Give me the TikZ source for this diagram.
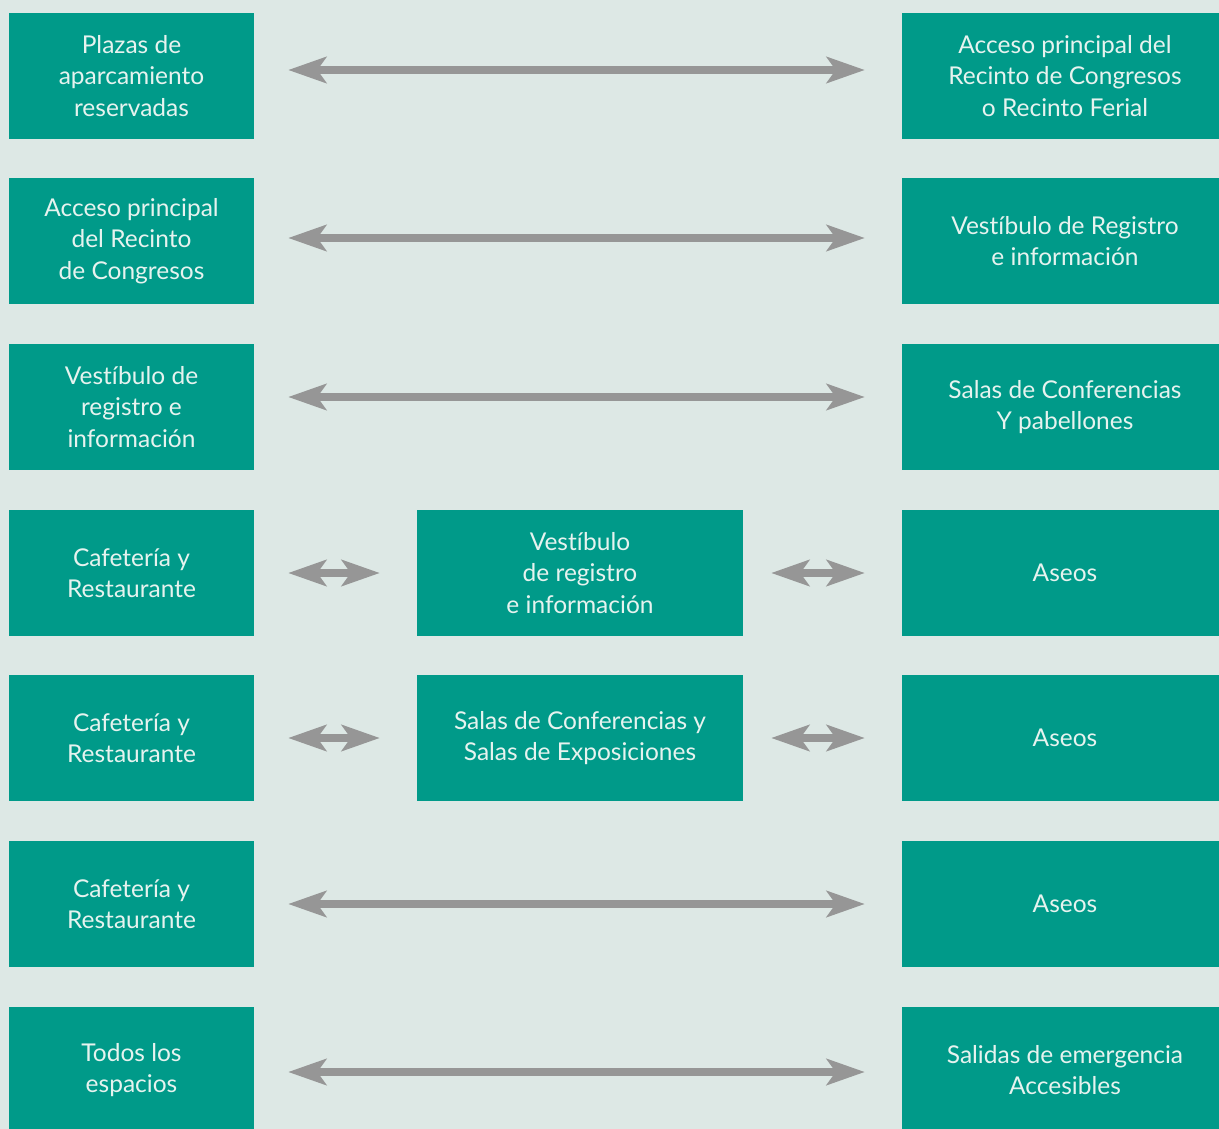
\documentclass[tikz,border=0pt]{standalone}
\usepackage{fontspec}
\setmainfont{Lato}[Ligatures=NoCommon]
\usetikzlibrary{arrows.meta}
\definecolor{fondo}{HTML}{DDE8E5}
\definecolor{verde}{HTML}{009A89}
\definecolor{letra}{HTML}{E6F3EF}
\definecolor{flecha}{HTML}{969696}
\begin{document}
\begin{tikzpicture}[x=1pt,y=-1pt,
    caja/.style={fill=verde, text=letra, align=center, minimum height=126pt,
      font=\fontsize{24.5}{31.5}\selectfont, inner sep=0pt},
    izq/.style={caja, minimum width=245pt},
    der/.style={caja, minimum width=326pt},
    med/.style={caja, minimum width=326pt},
    flechas/.style={draw=flecha, line width=8pt,
      {Stealth[length=38pt,width=26pt,inset=9pt]}-{Stealth[length=38pt,width=26pt,inset=9pt]},
      shorten <=34pt, shorten >=37pt}]

    \fill[fondo] (0,0) rectangle (1219,1129);
    \useasboundingbox (0,0) rectangle (1219,1129);
    \clip (0,0) rectangle (1219,1129);

    \node[izq] (l1) at (131.5,76) {Plazas de\\aparcamiento\\reservadas};
    \node[der] (r1) at (1065,76) {Acceso principal del\\Recinto de Congresos\\o Recinto Ferial};
    \node[izq] (l2) at (131.5,241) {Acceso principal\\del Recinto\\de Congresos};
    \node[der] (r2) at (1065,241) {Vestíbulo de Registro\\e información};
    \node[izq] (l3) at (131.5,407) {Vestíbulo de\\registro e\\información};
    \node[der] (r3) at (1065,407) {Salas de Conferencias\\Y pabellones};
    \node[izq] (l4) at (131.5,573) {Cafetería y\\Restaurante};
    \node[med] (m4) at (580,573) {Vestíbulo\\de registro\\e información};
    \node[der] (r4) at (1065,573) {Aseos};
    \node[izq] (l5) at (131.5,738) {Cafetería y\\Restaurante};
    \node[med] (m5) at (580,738) {Salas de Conferencias y\\Salas de Exposiciones};
    \node[der] (r5) at (1065,738) {Aseos};
    \node[izq] (l6) at (131.5,904) {Cafetería y\\Restaurante};
    \node[der] (r6) at (1065,904) {Aseos};
    \node[izq] (l7) at (131.5,1070) {Todos los\\espacios};
    \node[der] (r7) at (1065,1070) {Salidas de emergencia\\Accesibles};

    \draw[flechas] ([yshift=6pt]l1.east) -- ([yshift=6pt]r1.west);
    \draw[flechas] ([yshift=3pt]l2.east) -- ([yshift=3pt]r2.west);
    \draw[flechas] ([yshift=10pt]l3.east) -- ([yshift=10pt]r3.west);
    \draw[flechas] (l4.east) -- (m4.west);
    \draw[flechas, shorten <=28pt] (m4.east) -- (r4.west);
    \draw[flechas] (l5.east) -- (m5.west);
    \draw[flechas, shorten <=28pt] (m5.east) -- (r5.west);
    \draw[flechas] (l6.east) -- (r6.west);
    \draw[flechas] ([yshift=-2pt]l7.east) -- ([yshift=-2pt]r7.west);
  \end{tikzpicture}
\end{document}
